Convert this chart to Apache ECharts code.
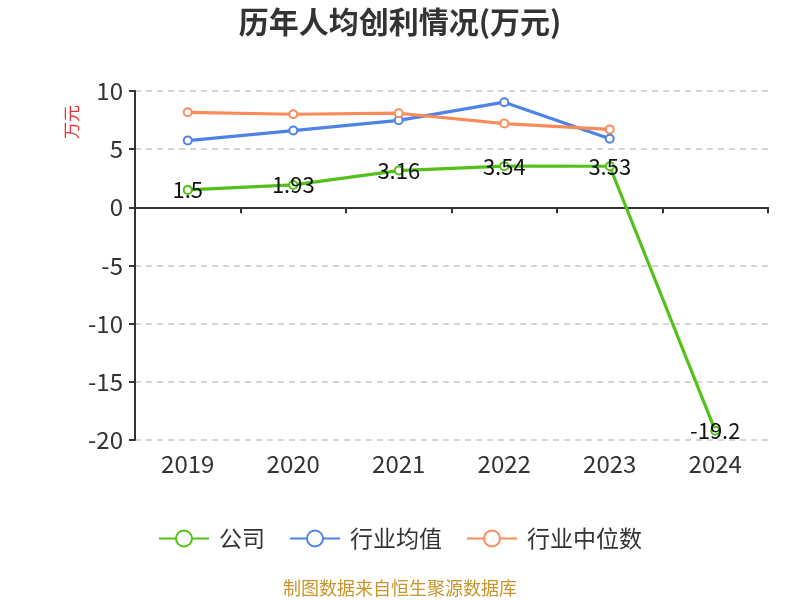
<!DOCTYPE html>
<html><head><meta charset="utf-8">
<script src="https://cdn.jsdelivr.net/npm/echarts@6/dist/echarts.min.js"></script>
<style>html,body{margin:0;padding:0;}#c{width:800px;height:600px;}</style>
</head><body><div id="c"></div>
<script>
var categories = ['2019','2020','2021','2022','2023','2024'];
var company = [1.5, 1.93, 3.16, 3.54, 3.53, -19.2];
var industryAvg = [5.74, 6.6, 7.48, 9.04, 5.9, null];
var industryMedian = [8.17, 8.0, 8.09, 7.2, 6.7, null];
var seriesNames = ['公司', '行业均值', '行业中位数'];
var colors = ['#52c21a', '#4f82e6', '#fb8c5a'];
var font = '"Noto Sans CJK SC", "Noto Sans", sans-serif';
var chart = echarts.init(document.getElementById('c'));
function mk(name, data, color, showLabel) {
  return {
    name: name, type: 'line', data: data, xAxisIndex: 0,
    symbol: 'emptyCircle', symbolSize: 8,
    lineStyle: {width: 3.2, color: color},
    itemStyle: {color: color, borderWidth: 2},
    label: {show: showLabel, position: 'inside', color: '#111', fontSize: 22, fontFamily: font},
    z: showLabel ? 3 : 2
  };
}
chart.setOption({
  textStyle: {fontFamily: font},
  title: {text: '历年人均创利情况(万元)', left: 'center', top: 2,
    textStyle: {fontSize: 30, fontWeight: 'bold', color: '#333', fontFamily: font}},
  legend: {top: 522, left: 'center', itemWidth: 50, itemHeight: 20, itemGap: 24,
    textStyle: {fontSize: 23, color: '#333', fontFamily: font, padding: [0, 0, 0, 5]},
    data: seriesNames},
  grid: {left: 135, right: 32, top: 91, bottom: 160},
  xAxis: [{
    type: 'category', data: categories, boundaryGap: true,
    axisLine: {onZero: true, lineStyle: {color: '#333', width: 2}},
    axisTick: {show: true, length: 6, lineStyle: {color: '#333', width: 2}},
    axisLabel: {show: false}
  }, {
    type: 'category', data: categories, position: 'bottom', boundaryGap: true,
    axisLine: {show: false, onZero: false}, axisTick: {show: false},
    axisLabel: {show: true, fontSize: 24, color: '#333', margin: 12, fontFamily: font}
  }],
  yAxis: {
    type: 'value', min: -20, max: 10, interval: 5,
    axisLine: {show: true, lineStyle: {color: '#333', width: 2}},
    axisTick: {show: true, length: 6, lineStyle: {color: '#333', width: 2}},
    axisLabel: {fontSize: 24, color: '#333', margin: 12, fontFamily: font},
    splitLine: {lineStyle: {type: [6, 5], color: '#c8c8c8', width: 1.5}}
  },
  series: [
    mk(seriesNames[0], company, colors[0], true),
    mk(seriesNames[1], industryAvg, colors[1], false),
    mk(seriesNames[2], industryMedian, colors[2], false)
  ],
  graphic: [
    {type: 'text', x: 72, y: 122, rotation: Math.PI / 2,
      style: {text: '万元', fill: '#e83030', fontSize: 17, fontFamily: font, align: 'center', verticalAlign: 'middle'}},
    {type: 'text', left: 'center', top: 579,
      style: {text: '制图数据来自恒生聚源数据库', fill: '#c9952a', fontSize: 18, fontFamily: font}}]
});
</script></body></html>
